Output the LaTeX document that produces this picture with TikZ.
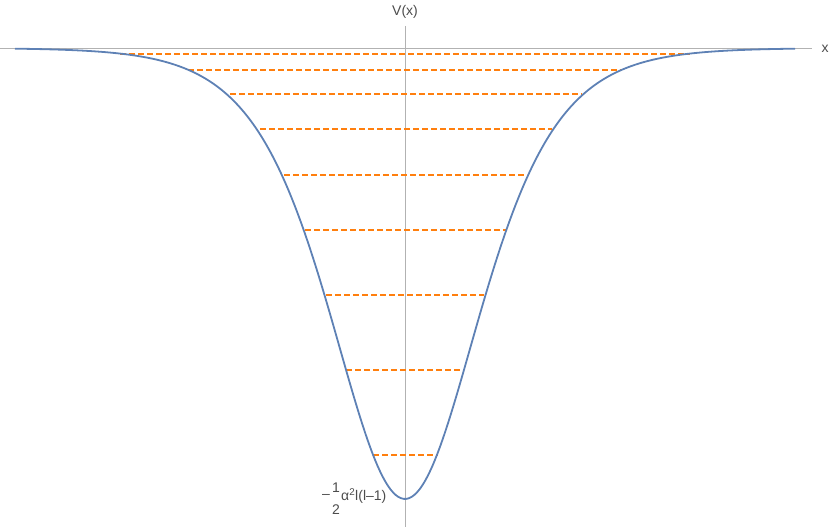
\documentclass[tikz,border=0pt]{standalone}
\usepackage{fontspec}
\setmainfont{Liberation Sans}
\begin{document}
\begin{tikzpicture}[x=1pt,y=-1pt,
  axisline/.style={draw=gray!60,line width=0.5pt},
  curve/.style={draw={rgb,1:red,0.368;green,0.507;blue,0.710},line width=1.8pt},
  level/.style={draw={rgb,255:red,255;green,127;blue,14},line width=1.6pt,dash pattern=on 6pt off 3pt},
  lab/.style={font=\fontsize{14}{15}\selectfont,text=black!70,inner sep=0pt}]
\useasboundingbox (0,0) rectangle (830,527);
\coordinate (xl) at (0,48); \coordinate (xr) at (812,48);
\coordinate (yt) at (405,26); \coordinate (yb) at (405,527);
\draw[axisline] (xl) -- (xr);
\draw[axisline] (yt) -- (yb);
\node[lab] (vx) at (405,12) {V(x)};
\node[lab] (xx) at (825,49) {x};
\foreach \ya/\xa/\xb in {54/120/690,70/188/622,94/230/582,129/260/552,175/284/527,230/305/506,295/326/484,370/346/464,455/373/438}{
  \coordinate (a\ya) at (\xa,\ya); \coordinate (b\ya) at (\xb,\ya);
  \draw[level] (a\ya) -- (b\ya);
}
\draw[curve] plot[domain=-390:390,samples=300,smooth] ({405+\x},{48+451/(cosh(\x/98.75)^2)});
\node[lab] (mn) at (326,496) {–};
\node[lab] (num) at (336,488) {1};
\node[lab] (den) at (336,510) {2};
\node[lab,anchor=west] (rest) at (341,496) {α\textsuperscript{2}l(l–1)};
\end{tikzpicture}
\end{document}
